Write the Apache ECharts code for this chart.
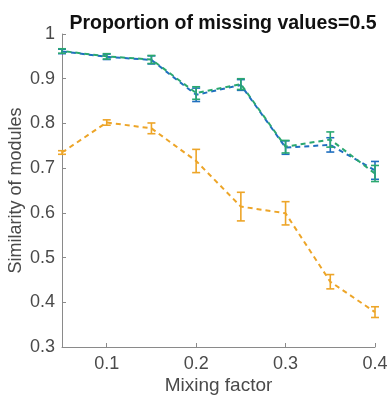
<!DOCTYPE html>
<html><head><meta charset="utf-8">
<script src="https://cdn.jsdelivr.net/npm/echarts@6/dist/echarts.min.js"></script>
<style>html,body{margin:0;padding:0;background:#fff}#c{width:387px;height:397px}</style>
</head><body><div id="c"></div>
<script>
const mixing = [0.05, 0.1, 0.15, 0.2, 0.25, 0.3, 0.35, 0.4];
const blueMean = [0.961, 0.949, 0.942, 0.864, 0.886, 0.746, 0.752, 0.695];
const blueErr  = [0.005, 0.006, 0.009, 0.015, 0.012, 0.015, 0.016, 0.020];
const greenMean = [0.962, 0.950, 0.943, 0.868, 0.888, 0.748, 0.764, 0.688];
const greenErr  = [0.005, 0.006, 0.009, 0.014, 0.012, 0.014, 0.017, 0.018];
const orangeMean = [0.735, 0.802, 0.789, 0.716, 0.614, 0.599, 0.446, 0.378];
const orangeErr  = [0.004, 0.006, 0.012, 0.026, 0.032, 0.026, 0.016, 0.012];
const xTicks = [0.1, 0.2, 0.3, 0.4];

const C_BLUE = '#1f6fbf', C_GREEN = '#2aa870', C_ORANGE = '#eda528';

function errSeries(mean, err, color) {
  return {
    type: 'custom',
    data: mixing.map((x, i) => [x, mean[i] - err[i], mean[i] + err[i]]),
    renderItem: function (params, api) {
      const lo = api.coord([api.value(0), api.value(1)]);
      const hi = api.coord([api.value(0), api.value(2)]);
      const w = 4;
      const st = { stroke: color, lineWidth: 1.6 };
      return { type: 'group', children: [
        { type: 'line', shape: { x1: lo[0], y1: lo[1], x2: hi[0], y2: hi[1] }, style: st },
        { type: 'line', shape: { x1: lo[0] - w, y1: lo[1], x2: lo[0] + w, y2: lo[1] }, style: st },
        { type: 'line', shape: { x1: hi[0] - w, y1: hi[1], x2: hi[0] + w, y2: hi[1] }, style: st }
      ]};
    },
    z: 3, silent: true, clip: false
  };
}
function lineSeries(mean, color, dashOffset) {
  return {
    type: 'line', data: mixing.map((x, i) => [x, mean[i]]),
    showSymbol: false, symbol: 'none',
    lineStyle: { color: color, width: 2, type: [5, 4], dashOffset: dashOffset || 0 },
    z: 2, silent: true
  };
}
const axisFont = { color: '#4a4a4a', fontSize: 18, fontFamily: 'Liberation Sans, Arial' };
const chart = echarts.init(document.getElementById('c'));
chart.setOption({
  animation: false,
  title: { text: 'Proportion of missing values=0.5', left: 218, top: 9, textAlign: 'center',
    textStyle: { fontSize: 19.5, fontWeight: 'bold', color: '#111', fontFamily: 'Liberation Sans, Arial' } },
  grid: { left: 62, right: 12, top: 34, bottom: 50, containLabel: false, outerBoundsMode: 'none' },
  xAxis: {
    type: 'value', min: 0.05, max: 0.4,
    name: 'Mixing factor', nameLocation: 'middle', nameGap: 29, nameMoveOverlap: false,
    nameTextStyle: { color: '#4a4a4a', fontSize: 19, fontFamily: 'Liberation Sans, Arial' },
    axisLine: { lineStyle: { color: '#8a8a8a', width: 1 } },
    axisTick: { inside: true, length: 4, customValues: xTicks, lineStyle: { color: '#8a8a8a' } },
    axisLabel: Object.assign({ customValues: xTicks, margin: 8, formatter: v => String(+v.toFixed(2)) }, axisFont),
    splitLine: { show: false }
  },
  yAxis: {
    type: 'value', min: 0.3, max: 1, interval: 0.1,
    name: 'Similarity of modules', nameLocation: 'middle', nameGap: 37, nameMoveOverlap: false,
    nameTextStyle: { color: '#4a4a4a', fontSize: 18, fontFamily: 'Liberation Sans, Arial' },
    axisLine: { show: true, lineStyle: { color: '#8a8a8a', width: 1 } },
    axisTick: { show: true, inside: true, length: 4, lineStyle: { color: '#8a8a8a' } },
    axisLabel: Object.assign({ margin: 7, formatter: v => String(+v.toFixed(1)) }, axisFont),
    splitLine: { show: false }
  },
  series: [
    lineSeries(orangeMean, C_ORANGE, 0),
    errSeries(orangeMean, orangeErr, C_ORANGE),
    lineSeries(blueMean, C_BLUE, 0),
    errSeries(blueMean, blueErr, C_BLUE),
    lineSeries(greenMean, C_GREEN, 4.5),
    errSeries(greenMean, greenErr, C_GREEN)
  ]
});
</script></body></html>
